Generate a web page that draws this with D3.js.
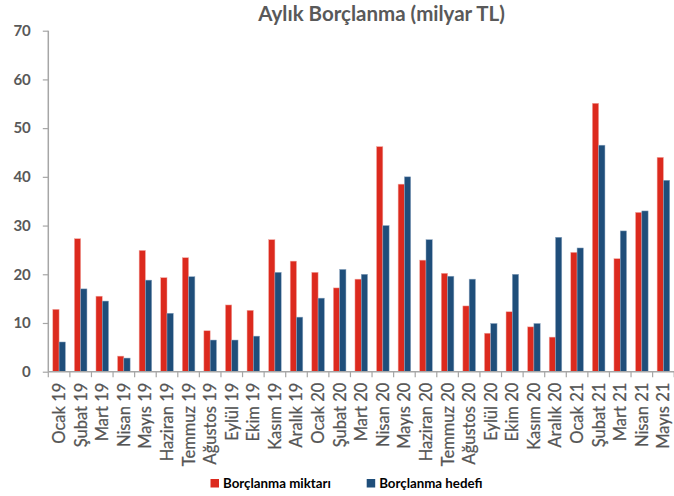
<!DOCTYPE html>
<html><head><meta charset="utf-8">
<script src="https://cdn.jsdelivr.net/npm/d3@7"></script>
<style>body{margin:0;background:#fff;} svg{display:block;}</style>
</head><body><svg id="c" width="674" height="496"></svg>
<script>
const categories = ["Ocak 19","Şubat 19","Mart 19","Nisan 19","Mayıs 19","Haziran 19","Temmuz 19","Ağustos 19","Eylül 19","Ekim 19","Kasım 19","Aralık 19","Ocak 20","Şubat 20","Mart 20","Nisan 20","Mayıs 20","Haziran 20","Temmuz 20","Ağustos 20","Eylül 20","Ekim 20","Kasım 20","Aralık 20","Ocak 21","Şubat 21","Mart 21","Nisan 21","Mayıs 21"];
const miktar = [12.8,27.3,15.5,3.2,24.9,19.3,23.4,8.4,13.7,12.6,27.1,22.7,20.4,17.2,19.0,46.2,38.5,22.9,20.2,13.5,7.9,12.3,9.2,7.1,24.5,55.1,23.2,32.7,44.0];
const hedef = [6.1,17.0,14.5,2.8,18.8,12.0,19.5,6.5,6.5,7.3,20.4,11.2,15.1,21.0,20.0,30.0,40.0,27.1,19.6,19.0,9.9,20.0,9.9,27.6,25.4,46.5,28.9,33.0,39.3];
const seriesNames = ["Borçlanma miktarı","Borçlanma hedefi"];
const yTicks = [0,10,20,30,40,50,60,70];
const title = "Aylık Borçlanma (milyar TL)";
const colors = ["#dc2a1e","#1f4e7a"];

const svg = d3.select("#c");
const font = "Lato, 'Open Sans', sans-serif";
const textCol = "#595959", axisCol = "#a6a6a6";

const x = d3.scaleBand().domain(categories).range([48.3, 674.2]).padding(0);
const xs = d3.scaleBand().domain([0,1]).range([4.5, x.bandwidth()-4.5]).padding(0);
const y = d3.scaleLinear().domain([0,70]).range([371.7, 30.7]);

// title
svg.append("text").attr("x", 381.5).attr("y", 20.7).attr("text-anchor","middle")
  .attr("font-family", font).attr("font-weight","bold").attr("font-size", 20.5)
  .attr("fill", textCol).text(title);

// bars
const data = categories.map((c,i)=>({c, v:[miktar[i], hedef[i]]}));
const g = svg.append("g");
data.forEach(d=>{
  d.v.forEach((v,j)=>{
    g.append("rect")
      .attr("x", x(d.c)+xs(j)).attr("width", xs.bandwidth())
      .attr("y", y(v)).attr("height", y(0)-y(v))
      .attr("fill", colors[j])
      .attr("stroke", j===0 ? "#f2a9a3" : "#8fa8c2").attr("stroke-width", 0.5);
  });
});

// y axis
const yAxis = d3.axisLeft(y).tickValues(yTicks).tickSize(5.5).tickPadding(12);
const ya = svg.append("g").attr("transform","translate(48.3,0)").call(yAxis);
ya.select(".domain").attr("stroke", axisCol).attr("stroke-width",1.5).attr("d", `M0,${y(70)}V${y(0)}`);
ya.selectAll(".tick line").attr("stroke", axisCol).attr("stroke-width",1.2);
ya.selectAll(".tick text").attr("font-family", font).attr("font-weight","bold").attr("font-size",15).attr("fill",textCol);

// x axis
const xa = svg.append("g").attr("transform",`translate(0,${y(0)})`);
xa.append("line").attr("x1",48.3).attr("x2",674).attr("y1",0).attr("y2",0).attr("stroke",axisCol).attr("stroke-width",1.5);
const bounds = categories.map(c=>x(c)).concat([x(categories[categories.length-1])+x.bandwidth()]);
xa.selectAll("line.t").data(bounds).enter().append("line").attr("class","t")
  .attr("x1",d=>d).attr("x2",d=>d).attr("y1",0).attr("y2",5.5).attr("stroke",axisCol).attr("stroke-width",1.2);
xa.selectAll("text").data(categories).enter().append("text")
  .attr("transform", d=>`translate(${x(d)+x.bandwidth()/2},11) rotate(-90)`)
  .attr("dy","0.36em").attr("text-anchor","end")
  .attr("font-family", font).attr("font-size",16.5).attr("fill","#555")
  .attr("stroke","#555").attr("stroke-width",0.25).text(d=>d);

// legend
const leg = [{x:210.5, name:seriesNames[0], c:colors[0]},{x:366.7, name:seriesNames[1], c:colors[1]}];
leg.forEach(l=>{
  svg.append("rect").attr("x",l.x).attr("y",479).attr("width",8.5).attr("height",8.5).attr("fill",l.c);
  svg.append("text").attr("x",l.x+12.5).attr("y",487.7).attr("font-family",font).attr("font-weight","bold")
    .attr("font-size",13.3).attr("fill","#000").text(l.name);
});
</script></body></html>
